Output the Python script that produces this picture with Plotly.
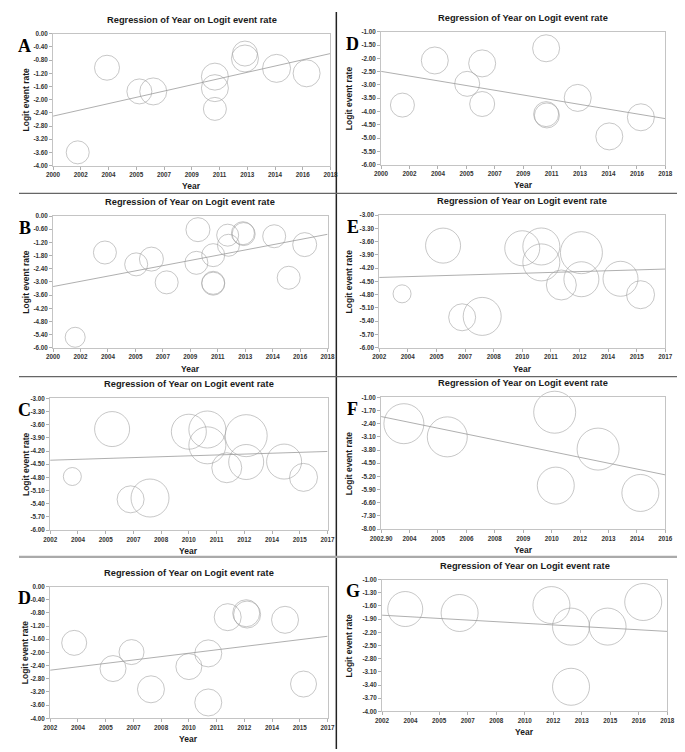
import numpy as np
import plotly.graph_objects as go

# page body has an 8px margin in the browser: size the figure to what remains
OFF = 8
W, H = 685 - OFF, 752 - OFF


def px(xp):
    return (xp - OFF) / W


def py(yp):
    return 1 - (yp - OFF) / H


# ---------------- data ----------------
# Panel A
a_year = [2001.6, 2003.5, 2005.6, 2006.5, 2010.5, 2010.5, 2010.5, 2012.45, 2012.45, 2014.5, 2016.45]
a_logit = [-3.60, -1.03, -1.75, -1.75, -1.30, -1.65, -2.28, -0.60, -0.75, -1.05, -1.20]
a_weight = [23, 25, 25, 27, 27, 27, 23, 25, 27, 28, 27]
a_reg = (0.1056, -1.444)  # slope, fitted value at 2010
a_xticks = ["2000", "2002", "2004", "2005", "2007", "2009", "2011", "2013", "2014", "2016", "2018"]

# Panel D (top right)
d1_year = [2001.35, 2003.4, 2005.45, 2006.4, 2006.4, 2010.45, 2010.45, 2010.5, 2012.45, 2014.45, 2016.45]
d1_logit = [-3.76, -2.08, -2.96, -2.19, -3.72, -1.62, -4.10, -4.15, -3.49, -4.94, -4.22]
d1_weight = [24, 27, 25, 27, 25, 27, 25, 25, 27, 27, 27]
d1_reg = (-0.0989, -3.479)
d1_xticks = ["2000", "2002", "2004", "2005", "2007", "2009", "2011", "2013", "2014", "2016", "2018"]

# Panel B
b_year = [2001.45, 2003.4, 2005.45, 2006.45, 2007.45, 2009.5, 2009.4, 2010.5, 2010.5, 2010.5,
          2011.45, 2011.5, 2012.45, 2012.5, 2014.5, 2015.45, 2016.5]
b_logit = [-5.52, -1.66, -2.20, -1.96, -3.02, -0.62, -2.13, -1.78, -3.04, -3.08,
           -0.87, -1.33, -0.78, -0.82, -0.92, -2.81, -1.30]
b_weight = [20, 23, 23, 24, 23, 24, 23, 23, 23, 23, 22, 22, 23, 23, 23, 23, 24]
b_reg = (0.1322, -1.888)
b_xticks = ["2000", "2002", "2004", "2005", "2007", "2009", "2011", "2013", "2014", "2016", "2018"]

# Panel E (right, row 2)
e_year = [2003.2, 2005.35, 2006.35, 2007.4, 2009.5, 2010.5, 2010.5, 2011.55, 2012.6, 2012.6, 2014.65, 2015.7]
e_logit = [-4.78, -3.69, -5.31, -5.29, -3.75, -3.71, -4.07, -4.58, -3.85, -4.45, -4.44, -4.80]
e_weight = [18, 35, 27, 38, 35, 37, 37, 30, 42, 35, 35, 28]
e_reg = (0.0127, -4.309)
e_xticks = ["2002", "2004", "2005", "2007", "2008", "2010", "2011", "2012", "2014", "2015", "2017"]

# Panel C
c_year = [2003.2, 2005.35, 2006.35, 2007.4, 2009.5, 2010.5, 2010.5, 2011.55, 2012.6, 2012.6, 2014.65, 2015.7]
c_logit = [-4.78, -3.70, -5.30, -5.27, -3.76, -3.71, -4.07, -4.58, -3.85, -4.45, -4.44, -4.80]
c_weight = [18, 35, 27, 38, 35, 37, 37, 30, 42, 35, 35, 28]
c_reg = (0.0133, -4.303)
c_xticks = ["2002", "2004", "2005", "2007", "2008", "2010", "2011", "2012", "2014", "2015", "2017"]

# Panel F
f_year = [2003.95, 2005.95, 2010.9, 2012.9, 2010.95, 2014.85]
f_logit = [-2.40, -3.10, -1.79, -3.75, -5.69, -6.08]
f_weight = [40, 40, 42, 42, 37, 37]
f_reg = (-0.2366, -3.700)
f_xticks = ["2002.90", "2004", "2005", "2006", "2008", "2009", "2010", "2012", "2013", "2014", "2016"]

# Panel D (bottom left)
d2_year = [2003.3, 2005.4, 2006.4, 2007.45, 2009.5, 2010.55, 2010.55, 2011.6, 2012.6, 2012.65, 2014.7, 2015.7]
d2_logit = [-1.71, -2.49, -1.99, -3.12, -2.43, -2.03, -3.52, -0.93, -0.81, -0.85, -1.01, -2.96]
d2_weight = [25, 26, 25, 27, 26, 27, 27, 27, 27, 27, 27, 26]
d2_reg = (0.0687, -1.990)
d2_xticks = ["2002", "2004", "2005", "2007", "2008", "2010", "2011", "2012", "2014", "2015", "2017"]

# Panel G
g_year = [2003.3, 2006.35, 2011.5, 2012.6, 2012.6, 2014.65, 2016.65]
g_logit = [-1.67, -1.76, -1.58, -2.07, -3.44, -2.07, -1.51]
g_weight = [35, 37, 37, 37, 37, 37, 37]
g_reg = (-0.0231, -1.995)
g_xticks = ["2002", "2004", "2005", "2007", "2008", "2010", "2012", "2013", "2015", "2016", "2018"]

# ---------------- layout of the 8 panels (pixel boxes in the page) ----------------
panels = [
    # letter, years, logits, weights, reg, xticks, xrange, yrange, ystep, plot box (l, r, t, b)
    ("A", a_year, a_logit, a_weight, a_reg, a_xticks, (2000, 2018), (-4, 0), 0.4, (43, 328, 30, 163)),
    ("D", d1_year, d1_logit, d1_weight, d1_reg, d1_xticks, (2000, 2018), (-6, -1), 0.5, (380, 672, 28, 162)),
    ("B", b_year, b_logit, b_weight, b_reg, b_xticks, (2000, 2018), (-6, 0), 0.6, (43, 325, 214, 347)),
    ("E", e_year, e_logit, e_weight, e_reg, e_xticks, (2002, 2017), (-6, -3), 0.3, (378, 672, 213, 347)),
    ("C", c_year, c_logit, c_weight, c_reg, c_xticks, (2002, 2017), (-6, -3), 0.3, (40, 325, 398, 531)),
    ("F", f_year, f_logit, f_weight, f_reg, f_xticks, (2002.9, 2016), (-8, -1), 0.7, (380, 672, 397, 530)),
    ("D", d2_year, d2_logit, d2_weight, d2_reg, d2_xticks, (2002, 2017), (-4, 0), 0.4, (40, 325, 588, 721)),
    ("G", g_year, g_logit, g_weight, g_reg, g_xticks, (2002, 2018), (-4, -1), 0.3, (381, 674, 581, 714)),
]

fig = go.Figure()
annotations = []
TXT = "#1a1a1a"
SANS = "Liberation Sans, Arial, sans-serif"

for i, (letter, yrs, lg, wt, reg, xt, xr, yr, ystep, box) in enumerate(panels):
    n = "" if i == 0 else str(i + 1)
    xa, ya = "x" + n, "y" + n
    l, r, t, b = box
    # circles
    fig.add_trace(go.Scatter(
        x=yrs, y=lg, mode="markers", xaxis=xa, yaxis=ya, cliponaxis=False,
        marker=dict(symbol="circle-open", size=wt, color="#9a9a9a", line=dict(width=0.8, color="#9a9a9a")),
        showlegend=False, hoverinfo="x+y"))
    # regression line
    slope, mid = reg
    xs = np.array(xr, dtype=float)
    ys = mid + slope * (xs - 2010)
    fig.add_trace(go.Scatter(x=xs, y=ys, mode="lines", xaxis=xa, yaxis=ya,
                             line=dict(color="#9a9a9a", width=0.8), showlegend=False, hoverinfo="skip"))
    xtv = np.linspace(xr[0], xr[1], len(xt))
    ytv = np.round(np.arange(yr[1], yr[0] - 1e-9, -ystep), 2)
    ytt = ["%.2f" % (0.0 if abs(v) < 1e-9 else v) for v in ytv]
    axcommon = dict(showgrid=False, zeroline=False, showline=True, mirror=True,
                    linecolor="#c4c4c4", linewidth=1, ticks="outside", ticklen=3,
                    tickcolor="#b0b0b0", tickwidth=1, ticklabeloverflow="allow",
                    tickfont=dict(family=SANS, size=6.3, color="#333", weight="bold"))
    fig.update_layout(**{
        "xaxis" + n: dict(domain=[px(l), px(r)], range=list(xr), anchor=ya,
                          tickmode="array", tickvals=xtv, ticktext=xt, **axcommon),
        "yaxis" + n: dict(domain=[py(b), py(t)], range=list(yr), anchor=xa,
                          tickmode="array", tickvals=ytv, ticktext=ytt, **axcommon),
    })
    cx = (l + r) / 2
    col_left = l < 200
    # title
    annotations.append(dict(x=px(cx), y=py(t - 14), xref="paper", yref="paper",
                            text="<b>Regression of Year on Logit event rate</b>", showarrow=False,
                            font=dict(family=SANS, size=9.3, color=TXT), xanchor="center", yanchor="middle"))
    # x title
    annotations.append(dict(x=px(cx), y=py(b + 21), xref="paper", yref="paper",
                            text="<b>Year</b>", showarrow=False,
                            font=dict(family=SANS, size=8.5, color=TXT), xanchor="center", yanchor="middle"))
    # y title
    annotations.append(dict(x=px(15 if col_left else 347), y=py((t + b) / 2), xref="paper", yref="paper",
                            text="<b>Logit event rate</b>", showarrow=False, textangle=-90,
                            font=dict(family=SANS, size=8.5, color=TXT), xanchor="center", yanchor="middle"))
    # panel letter
    annotations.append(dict(x=px(14 if col_left else 351), y=py(t + 12), xref="paper", yref="paper",
                            text="<b>%s</b>" % letter, showarrow=False,
                            font=dict(family="Liberation Serif, Times New Roman, serif", size=18, color="#000"),
                            xanchor="center", yanchor="middle"))

shapes = [
    dict(type="line", xref="paper", yref="paper", x0=px(334), x1=px(334), y0=0, y1=1,
         line=dict(color="#222", width=1.5)),
    dict(type="line", xref="paper", yref="paper", x0=px(OFF), x1=1, y0=py(191), y1=py(191),
         line=dict(color="#666", width=1.3)),
    dict(type="line", xref="paper", yref="paper", x0=px(OFF), x1=1, y0=py(376), y1=py(376),
         line=dict(color="#666", width=1.3)),
    dict(type="line", xref="paper", yref="paper", x0=px(OFF), x1=1, y0=py(558), y1=py(558),
         line=dict(color="#aaa", width=2.2)),
]

fig.update_layout(width=W, height=H, margin=dict(l=0, r=0, t=0, b=0),
                  paper_bgcolor="white", plot_bgcolor="white",
                  annotations=annotations, shapes=shapes, showlegend=False)

fig.write_html("out.html")
